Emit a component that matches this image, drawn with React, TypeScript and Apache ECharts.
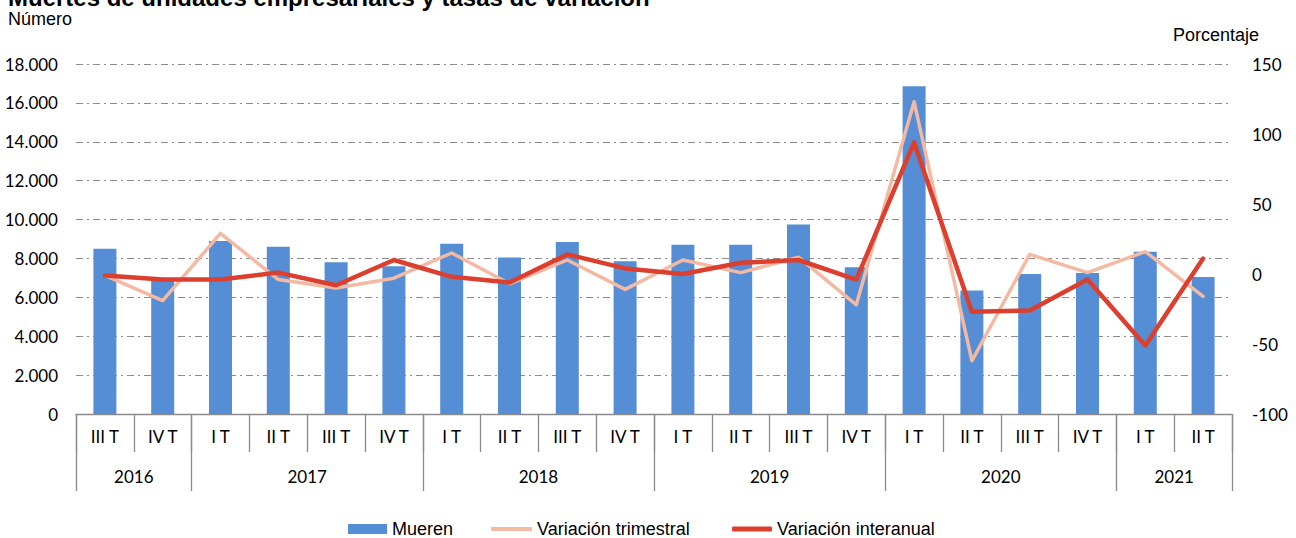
import React, { useEffect, useRef } from "react";
import * as echarts from "echarts";

const quarters = ["III T", "IV T", "I T", "II T", "III T", "IV T", "I T", "II T", "III T", "IV T", "I T", "II T", "III T", "IV T", "I T", "II T", "III T", "IV T", "I T", "II T"];
const years = ["2016", "2017", "2018", "2019", "2020", "2021"];
const quartersPerYear = [2, 4, 4, 4, 4, 2];
const mueren = [8500, 6900, 8900, 8600, 7800, 7600, 8750, 8050, 8850, 7850, 8700, 8700, 9750, 7550, 16850, 6350, 7200, 7250, 8350, 7050];
const variacionTrimestral = [-1, -19, 29, -4, -10, -3, 15, -7, 10, -11, 10, 1, 12, -22, 123, -62, 14, 1, 16, -16];
const variacionInteranual = [-1, -4, -4, 1, -8, 10, -2, -6, 14, 4, 0, 8, 10, -4, 94, -27, -26, -4, -51, 11];
const leftTicks = { min: 0, max: 18000, interval: 2000 };
const rightTicks = { min: -100, max: 150, interval: 50 };

const SANS = "'Liberation Sans', Arial, sans-serif";
const AXISFONT = "Lato, 'Liberation Sans', sans-serif";
const BLUE = "#558ED5";
const SALMON = "#F3B9A2";
const RED = "#DC3F2E";
const AXISGRAY = "#8A8A8A";

// Build the half-step year axis (positions in half-quarters)
const yearLabelAt: Record<number, string> = {};
const yearBoundary: Record<number, boolean> = { 0: true };
let acc = 0;
years.forEach((y, i) => {
  const span = quartersPerYear[i];
  yearLabelAt[acc * 2 + span] = y;
  acc += span;
  yearBoundary[acc * 2] = true;
});
const yearAxisData = Array.from({ length: acc * 2 + 1 }, (_, j) => "p" + j);

export default function App() {
  const ref = useRef<HTMLDivElement>(null);
  useEffect(() => {
    if (!ref.current) return;
    const chart = echarts.init(ref.current, undefined, { renderer: "svg" });
    chart.setOption({
      animation: false,
      backgroundColor: "#ffffff",
      grid: { left: 76, right: 64, top: 64, bottom: 124, containLabel: false },
      xAxis: [
        {
          type: "category",
          data: quarters,
          position: "bottom",
          boundaryGap: true,
          axisLine: { show: true, onZero: false, lineStyle: { color: AXISGRAY, width: 1.3 } },
          axisTick: { show: true, interval: 0, length: 38, lineStyle: { color: AXISGRAY, width: 1.3 } },
          axisLabel: { interval: 0, margin: 14, fontSize: 17, color: "#000", fontFamily: AXISFONT },
          splitLine: { show: false },
        },
        {
          type: "category",
          data: yearAxisData,
          position: "bottom",
          boundaryGap: false,
          axisLine: { show: false, onZero: false },
          axisTick: {
            show: true,
            length: 77,
            interval: (index: number) => !!yearBoundary[index],
            lineStyle: { color: AXISGRAY, width: 1.3 },
          },
          axisLabel: {
            interval: (index: number) => yearLabelAt[index] !== undefined,
            formatter: (_v: string, index: number) => yearLabelAt[index] ?? "",
            margin: 54,
            fontSize: 17,
            color: "#000",
            fontFamily: AXISFONT,
          },
          splitLine: { show: false },
        },
      ],
      yAxis: [
        {
          type: "value",
          ...leftTicks,
          axisLine: { show: false },
          axisTick: { show: false },
          axisLabel: {
            margin: 18,
            fontSize: 17,
            color: "#000",
            fontFamily: AXISFONT,
            formatter: (v: number) => v.toLocaleString("de-DE"),
          },
          splitLine: { show: true, lineStyle: { color: "#8C8C8C", width: 1, type: [7, 4, 2, 4] } },
        },
        {
          type: "value",
          ...rightTicks,
          position: "right",
          axisLine: { show: false },
          axisTick: { show: false },
          axisLabel: { margin: 20, fontSize: 17, color: "#000", fontFamily: AXISFONT },
          splitLine: { show: false },
        },
      ],
      legend: [
        {
          data: [{ name: "Mueren", icon: "rect" }],
          left: 348,
          top: 520,
          padding: 0,
          itemWidth: 39,
          itemHeight: 10,
          textStyle: { fontSize: 18, fontFamily: SANS, color: "#000", lineHeight: 18 },
          selectedMode: false,
        },
        {
          data: [{ name: "Variación trimestral", icon: "roundRect" }],
          left: 491,
          top: 520,
          padding: 0,
          itemWidth: 41,
          itemHeight: 4,
          textStyle: { fontSize: 18, fontFamily: SANS, color: "#000", lineHeight: 18 },
          selectedMode: false,
        },
        {
          data: [{ name: "Variación interanual", icon: "roundRect" }],
          left: 732,
          top: 520,
          padding: 0,
          itemWidth: 40,
          itemHeight: 5,
          textStyle: { fontSize: 18, fontFamily: SANS, color: "#000", lineHeight: 18 },
          selectedMode: false,
        },
      ],
      graphic: [
        {
          type: "text",
          left: 8,
          top: -15,
          style: {
            text: "Muertes de unidades empresariales y tasas de variación",
            font: "bold 24px " + SANS,
            fill: "#000",
          },
        },
        {
          type: "text",
          left: 8,
          top: 10,
          style: { text: "Número", font: "18px " + SANS, fill: "#000" },
        },
        {
          type: "text",
          left: 1173,
          top: 26,
          style: { text: "Porcentaje", font: "18px " + SANS, fill: "#000" },
        },
      ],
      series: [
        {
          name: "Mueren",
          type: "bar",
          xAxisIndex: 0,
          yAxisIndex: 0,
          data: mueren,
          barWidth: 23,
          itemStyle: { color: BLUE },
        },
        {
          name: "Variación trimestral",
          type: "line",
          xAxisIndex: 0,
          yAxisIndex: 1,
          data: variacionTrimestral,
          symbol: "none",
          lineStyle: { color: SALMON, width: 3.5, cap: "round", join: "round" },
          itemStyle: { color: SALMON },
        },
        {
          name: "Variación interanual",
          type: "line",
          xAxisIndex: 0,
          yAxisIndex: 1,
          data: variacionInteranual,
          symbol: "none",
          lineStyle: { color: RED, width: 4.5, cap: "round", join: "round" },
          itemStyle: { color: RED },
        },
      ],
    });
    return () => chart.dispose();
  }, []);
  return (
    <div
      ref={ref}
      style={{ position: "fixed", left: 0, top: 0, width: 1296, height: 538, background: "#fff" }}
    />
  );
}
